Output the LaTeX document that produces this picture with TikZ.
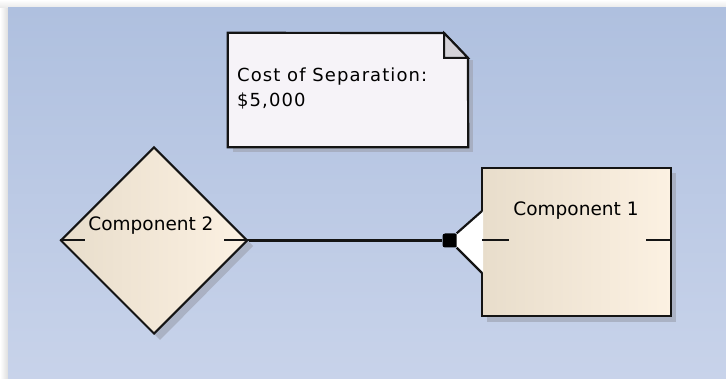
\documentclass[tikz,border=0pt]{standalone}
\usepackage{fontspec}
\setmainfont{DejaVu Sans}
\newfontfamily\notefont[LetterSpace=6]{DejaVu Sans}
\usetikzlibrary{shapes.geometric}
\definecolor{bgtop}{RGB}{175,192,223}
\definecolor{bgbot}{RGB}{200,211,234}
\definecolor{compL}{RGB}{232,221,203}
\definecolor{compR}{RGB}{252,241,226}
\definecolor{notefill}{RGB}{246,243,248}
\definecolor{foldfill}{RGB}{212,210,216}
\definecolor{shadecol}{RGB}{162,168,184}
\definecolor{edge}{RGB}{20,20,20}
\tikzset{
  compbox/.style={draw=edge, line width=2.2pt, left color=compL, right color=compR, inner sep=0pt},
  compdiamond/.style={diamond, draw=edge, line width=2pt, left color=compL, right color=compR, inner sep=0pt, aspect=1},
  lbl/.style={font=\fontsize{18.5}{22}\selectfont, text=black, inner sep=0pt},
  stub/.style={draw=edge, line width=2pt},
  conn/.style={draw=edge, line width=2.2pt},
  shadowfill/.style={fill=shadecol, opacity=0.75}
}
\begin{document}
\begin{tikzpicture}[x=1pt,y=-1pt]
\useasboundingbox (0,0) rectangle (726,379);
% frame and background
\fill[white] (0,0) rectangle (726,379);
\shade[left color=white, right color=black!13] (0,8) rectangle (8,379);
\shade[top color=white, bottom color=black!9] (0,0) rectangle (726,8);
\shade[top color=bgtop, bottom color=bgbot] (8,8) rectangle (726,379);

% shadows
\fill[shadowfill] (233,60) rectangle (473,152);
\fill[shadowfill] (160,153) -- (253,246) -- (160,340) -- (67,246) -- cycle;
\fill[shadowfill] (487,173) rectangle (676,322);

% note
\node[minimum width=240pt, minimum height=114pt, inner sep=0pt] (note) at (348,90) {};
\coordinate (foldA) at (444,33);
\coordinate (foldB) at (468,58);
\filldraw[fill=notefill, draw=edge, line width=2.2pt, line join=miter]
  (note.north west) -- (foldA) -- (foldB) -- (note.south east) -- (note.south west) -- cycle;
\filldraw[fill=foldfill, draw=edge, line width=2pt] (foldA) -- (foldA |- foldB) -- (foldB) -- cycle;
\node[lbl, anchor=base west, align=left, font=\notefont\fontsize{18}{25}\selectfont] (notetext) at (237,107)
  {Cost of Separation:\\\$5,000};

% Component 2 (diamond)
\node[compdiamond, minimum width=187pt, minimum height=187pt] (c2) at (154,240.5) {};
\node[lbl, anchor=base] (c2label) at (151,231) {Component 2};
\draw[stub] (c2.west) -- ++(25,0);
\draw[stub] (c2.east) -- ++(-25,0);

% Component 1 (rectangle)
\node[compbox, minimum width=189pt, minimum height=148pt] (c1) at (576.5,242) {};
\node[lbl, anchor=base] (c1label) at (576,216) {Component 1};
\coordinate (c1port) at (482,240.5);
\coordinate (c1portR) at (671,240.5);
\draw[stub] (c1portR) -- ++(-25,0);

% connector with ball and socket
\node[fill=black, rounded corners=2.5pt, minimum width=15pt, minimum height=14pt, inner sep=0pt] (ball) at (450,240.5) {};
\draw[conn] (c2.east) -- (ball.west);
\coordinate (sockTop) at (483.2,211);
\coordinate (sockBot) at (483.2,273);
\fill[white] ([xshift=-1pt]ball.north east) -- (sockTop) -- (sockBot) -- ([xshift=-1pt]ball.south east) -- cycle;
\draw[conn] ([xshift=-1pt]ball.north east) -- ([xshift=-1.2pt]sockTop);
\draw[conn] ([xshift=-1pt]ball.south east) -- ([xshift=-1.2pt]sockBot);
\draw[stub] (c1port) -- ++(27,0);
\end{tikzpicture}
\end{document}
